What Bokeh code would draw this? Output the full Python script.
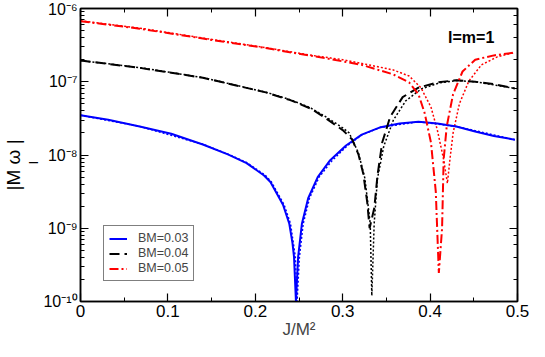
from bokeh.plotting import figure
from bokeh.models import (LogAxis, LinearAxis, SingleIntervalTicker, LogTicker,
                          Legend, LegendItem, Label, Range1d, CustomJSTickFormatter, Title)
from bokeh.embed import file_html
from bokeh.resources import INLINE

# ---------------- data ----------------
# BM = 0.03 (blue)
j_b = [0.0, 0.0317, 0.0677, 0.1038, 0.14, 0.1686, 0.19, 0.21, 0.2173, 0.2317, 0.2389, 0.2425,
       0.2443, 0.2465, 0.2490, 0.2533, 0.2605, 0.2714, 0.2857, 0.3038, 0.3218, 0.3435, 0.365,
       0.3867, 0.4083, 0.43, 0.4515, 0.473, 0.497]
w_b = [3.49e-8, 3.02e-8, 2.45e-8, 1.95e-8, 1.39e-8, 1.02e-8, 7.76e-9, 5.25e-9, 4.27e-9, 2.09e-9,
       1.15e-9, 6.3e-10, 4.07e-10, 1.0e-10, 4.07e-10, 1.15e-9, 2.57e-9, 5.0e-9, 8.5e-9, 1.35e-8,
       1.9e-8, 2.4e-8, 2.69e-8, 2.85e-8, 2.69e-8, 2.45e-8, 2.09e-8, 1.82e-8, 1.62e-8]
j_b_dot = [0.0, 0.0677, 0.14, 0.1686, 0.19, 0.211, 0.2185, 0.233, 0.2403, 0.2458, 0.2478,
           0.2505, 0.2548, 0.262, 0.273, 0.2875, 0.305, 0.3218, 0.3435, 0.3867, 0.43, 0.497]
w_b_dot = [3.49e-8, 2.46e-8, 1.40e-8, 1.03e-8, 7.9e-9, 5.35e-9, 4.27e-9, 2.09e-9, 1.15e-9,
           4.07e-10, 1.0e-10, 4.07e-10, 1.15e-9, 2.57e-9, 5.0e-9, 8.3e-9, 1.33e-8, 1.88e-8,
           2.39e-8, 2.84e-8, 2.45e-8, 1.62e-8]

# BM = 0.04 (black)
j_k = [0.0, 0.0677, 0.14, 0.212, 0.24, 0.264, 0.2785, 0.30, 0.311, 0.318, 0.3236, 0.328, 0.3308,
       0.3362, 0.3398, 0.3452, 0.3543, 0.3686, 0.3867, 0.4083, 0.43, 0.4516, 0.473, 0.497]
w_k = [1.95e-7, 1.55e-7, 1.135e-7, 7.16e-8, 5.62e-8, 4.27e-8, 3.31e-8, 2.19e-8, 1.62e-8, 1.02e-8,
       5.5e-9, 2.3e-9, 1.0e-9, 1.91e-9, 5.25e-9, 1.48e-8, 3.31e-8, 6.17e-8, 8.3e-8, 9.8e-8,
       1.05e-7, 1.0e-7, 9.3e-8, 8.1e-8]
j_k_dot = [0.0, 0.0677, 0.14, 0.212, 0.24, 0.264, 0.2785, 0.30, 0.3074, 0.318, 0.3254, 0.3315,
           0.3333, 0.336, 0.3398, 0.347, 0.358, 0.3722, 0.39, 0.41, 0.43, 0.4516, 0.497]
w_k_dot = [1.95e-7, 1.56e-7, 1.14e-7, 7.2e-8, 5.7e-8, 4.35e-8, 3.45e-8, 2.35e-8, 2.0e-8, 1.07e-8,
           4.8e-9, 1.15e-9, 1.2e-10, 1.15e-9, 4.8e-9, 1.32e-8, 3.0e-8, 5.5e-8, 8.0e-8, 9.6e-8,
           1.04e-7, 1.0e-7, 8.1e-8]

# BM = 0.05 (red)
j_r = [0.0, 0.0677, 0.14, 0.212, 0.264, 0.2857, 0.3218, 0.3578, 0.3759, 0.3867, 0.3938, 0.401,
       0.4065, 0.41, 0.4137, 0.4155, 0.419, 0.4263, 0.4371, 0.4516, 0.473, 0.497]
w_r = [6.71e-7, 5.30e-7, 3.89e-7, 2.88e-7, 2.26e-7, 2.04e-7, 1.70e-7, 1.26e-7, 9.8e-8, 6.76e-8,
       3.72e-8, 1.48e-8, 3.16e-9, 2.45e-10, 1.0e-9, 8.7e-9, 2.45e-8, 6.76e-8, 1.38e-7, 2.0e-7,
       2.29e-7, 2.51e-7]
j_r_dot = [0.0, 0.0677, 0.14, 0.212, 0.264, 0.30, 0.3218, 0.3578, 0.3759, 0.3895, 0.401, 0.4083,
           0.4155, 0.4198, 0.4227, 0.4263, 0.4335, 0.4443, 0.4587, 0.477, 0.497]
w_r_dot = [6.8e-7, 5.4e-7, 3.95e-7, 2.92e-7, 2.3e-7, 2.0e-7, 1.78e-7, 1.45e-7, 1.2e-7, 8.3e-8,
           4.5e-8, 2.19e-8, 8.7e-9, 4.1e-9, 8.7e-9, 2.0e-8, 5.0e-8, 1.02e-7, 1.7e-7, 2.19e-7,
           2.51e-7]

labels = ["BM=0.03", "BM=0.04", "BM=0.05"]
FONT = "Liberation Sans"

# ---------------- figure ----------------
p = figure(width=529, height=341, y_axis_type="log",
           x_range=Range1d(0, 0.5), y_range=Range1d(1e-10, 1e-6),
           output_backend="svg", toolbar_location=None,
           min_border_left=60, min_border_right=12, min_border_top=8, min_border_bottom=10,
           background_fill_color="white", border_fill_color="white")
p.grid.visible = False
p.outline_line_color = "black"
p.outline_line_width = 1.5

def style_axis(ax, labels_on=True):
    ax.axis_line_width = 1.5
    ax.axis_line_color = "black"
    ax.major_tick_in = 8
    ax.major_tick_out = 0
    ax.minor_tick_in = 4
    ax.minor_tick_out = 0
    ax.major_tick_line_width = 1.2
    ax.minor_tick_line_width = 1.0
    ax.major_tick_line_color = "black"
    ax.minor_tick_line_color = "black"
    ax.major_label_text_font = FONT
    ax.major_label_text_color = "black"
    ax.major_label_text_font_size = "17px"
    if labels_on:
        ax.major_label_standoff = 3
    else:
        ax.formatter = CustomJSTickFormatter(code="return ''")
        ax.major_label_standoff = 0

xb = p.xaxis[0]
xb.ticker = SingleIntervalTicker(interval=0.1, num_minor_ticks=2)
xb.major_label_overrides = {0: "0"}
style_axis(xb)
xb.axis_label = "J/M²"
xb.axis_label_text_font = FONT
xb.axis_label_text_font_size = "17px"
xb.axis_label_text_font_style = "normal"
xb.axis_label_standoff = 0

yl = p.yaxis[0]
style_axis(yl)
yl.major_label_text_font_size = "16px"
yl.formatter = CustomJSTickFormatter(code="""
const sup = {"-": "\u207b", "0": "\u2070", "1": "\u00b9", "2": "\u00b2", "3": "\u00b3",
             "4": "\u2074", "5": "\u2075", "6": "\u2076", "7": "\u2077", "8": "\u2078",
             "9": "\u2079"};
const e = Math.round(Math.log10(tick));
return "10" + String(e).split("").map(c => sup[c]).join("");
""")
yl.major_label_standoff = 3

xt = LinearAxis(ticker=SingleIntervalTicker(interval=0.1, num_minor_ticks=2))
style_axis(xt, labels_on=False)
p.add_layout(xt, "above")
yr = LogAxis(ticker=LogTicker())
style_axis(yr, labels_on=False)
p.add_layout(yr, "right")

# y label |M ω_I|: subscript "I" in the inner stripe, main text in the outer stripe
p.add_layout(Title(text="I", align="left", offset=137, standoff=0, text_font=FONT,
                   text_font_size="13px", text_font_style="normal", text_color="black"), "left")
p.add_layout(Title(text="|M ω   |", align="left", offset=111, standoff=0, text_font=FONT,
                   text_font_size="19px", text_font_style="normal", text_color="black"), "left")

# dotted companions
p.line(j_b_dot, w_b_dot, line_color="#0000ff", line_width=1.5, line_dash="2 2")
p.line(j_k_dot, w_k_dot, line_color="black", line_width=1.5, line_dash="2 2")
p.line(j_r_dot, w_r_dot, line_color="#ff0000", line_width=1.5, line_dash="2 2")

# main curves
rb = p.line(j_b, w_b, line_color="#0000ff", line_width=2)
rk = p.line(j_k, w_k, line_color="black", line_width=2, line_dash="10 5")
rr = p.line(j_r, w_r, line_color="#ff0000", line_width=2, line_dash="9 3 2 3")

legend = Legend(items=[LegendItem(label=labels[0], renderers=[rb]),
                       LegendItem(label=labels[1], renderers=[rk]),
                       LegendItem(label=labels[2], renderers=[rr])],
                location=(23, 20))
legend.border_line_color = "black"
legend.border_line_width = 1.5
legend.background_fill_alpha = 1
legend.label_text_font = FONT
legend.label_text_font_size = "12.5px"
legend.label_height = 13
legend.glyph_height = 13
legend.glyph_width = 18
legend.label_standoff = 11
legend.spacing = 1
legend.padding = 5
legend.margin = 0
p.add_layout(legend)

# annotation
p.add_layout(Label(x=0.4205, y=4.0e-7, text="l=m=1", text_font=FONT, text_font_size="16px",
                   text_font_style="bold", text_baseline="alphabetic", text_color="black"))

open("out.html", "w").write(file_html(p, INLINE))
